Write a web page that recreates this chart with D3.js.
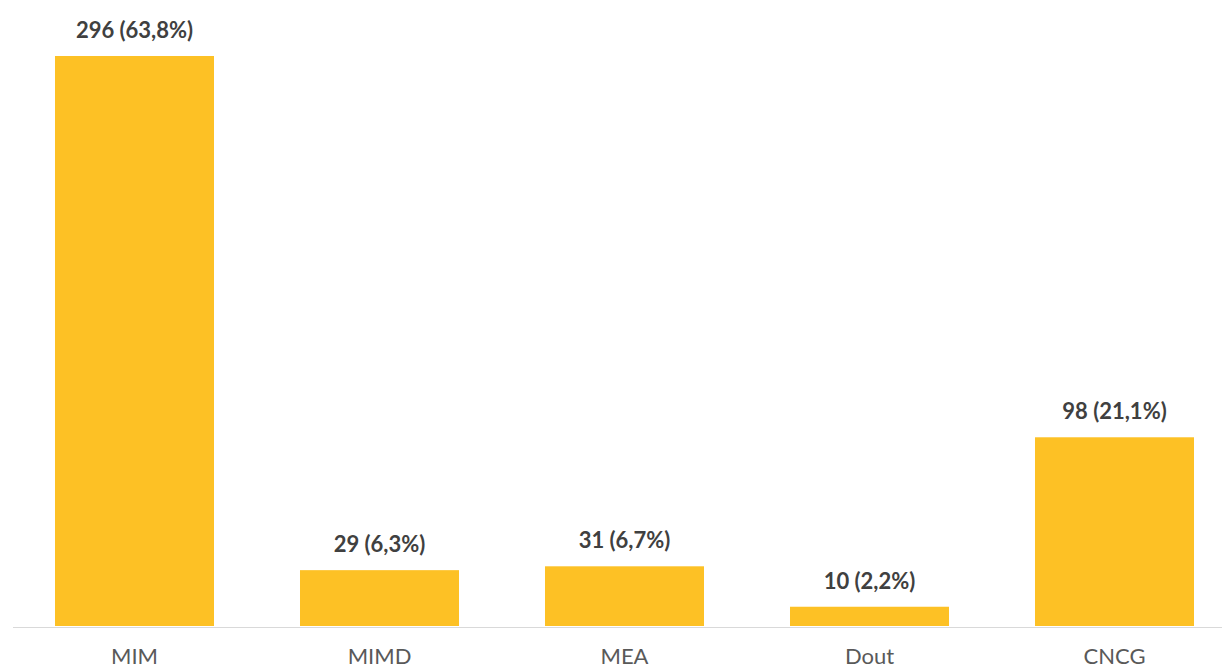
<!DOCTYPE html>
<html>
<head>
<meta charset="utf-8">
<script src="https://cdn.jsdelivr.net/npm/d3@7"></script>
<style>
  html, body { margin: 0; padding: 0; background: #fff; }
  svg { display: block; }
</style>
</head>
<body>
<svg id="chart" width="1222" height="669"></svg>
<script>
const categories = ["MIM", "MIMD", "MEA", "Dout", "CNCG"];
const counts = [296, 29, 31, 10, 98];
const shares = ["63,8%", "6,3%", "6,7%", "2,2%", "21,1%"];

const svg = d3.select("#chart");
const baseline = 626;
const font = "'Gill Sans', 'Gill Sans MT', Lato, 'Open Sans', sans-serif";

const x = d3.scaleBand()
  .domain(categories)
  .range([12, 1237])
  .paddingInner(0.351)
  .paddingOuter(0.1755);

const y = d3.scaleLinear()
  .domain([0, 296])
  .range([baseline, 56]);

const data = categories.map((c, i) => ({ cat: c, n: counts[i], pct: shares[i] }));

svg.append("g").selectAll("rect")
  .data(data)
  .join("rect")
  .attr("x", d => x(d.cat))
  .attr("y", d => y(d.n))
  .attr("width", x.bandwidth())
  .attr("height", d => baseline - y(d.n))
  .attr("fill", "#FDC125");

// baseline axis
svg.append("line")
  .attr("x1", 13).attr("x2", 1222)
  .attr("y1", baseline + 1.5).attr("y2", baseline + 1.5)
  .attr("stroke", "#d9d9d9")
  .attr("stroke-width", 1.2);

// value labels
svg.append("g").selectAll("text")
  .data(data)
  .join("text")
  .attr("x", d => x(d.cat) + x.bandwidth() / 2)
  .attr("y", d => y(d.n) - 18)
  .attr("text-anchor", "middle")
  .attr("font-family", font)
  .attr("font-weight", "bold")
  .attr("font-size", 22)
  .attr("fill", "#404040")
  .text(d => `${d.n} (${d.pct})`);

// category labels
svg.append("g").selectAll("text")
  .data(categories)
  .join("text")
  .attr("x", d => x(d) + x.bandwidth() / 2)
  .attr("y", 664)
  .attr("text-anchor", "middle")
  .attr("font-family", font)
  .attr("font-size", 22)
  .attr("fill", "#595959")
  .text(d => d);
</script>
</body>
</html>
